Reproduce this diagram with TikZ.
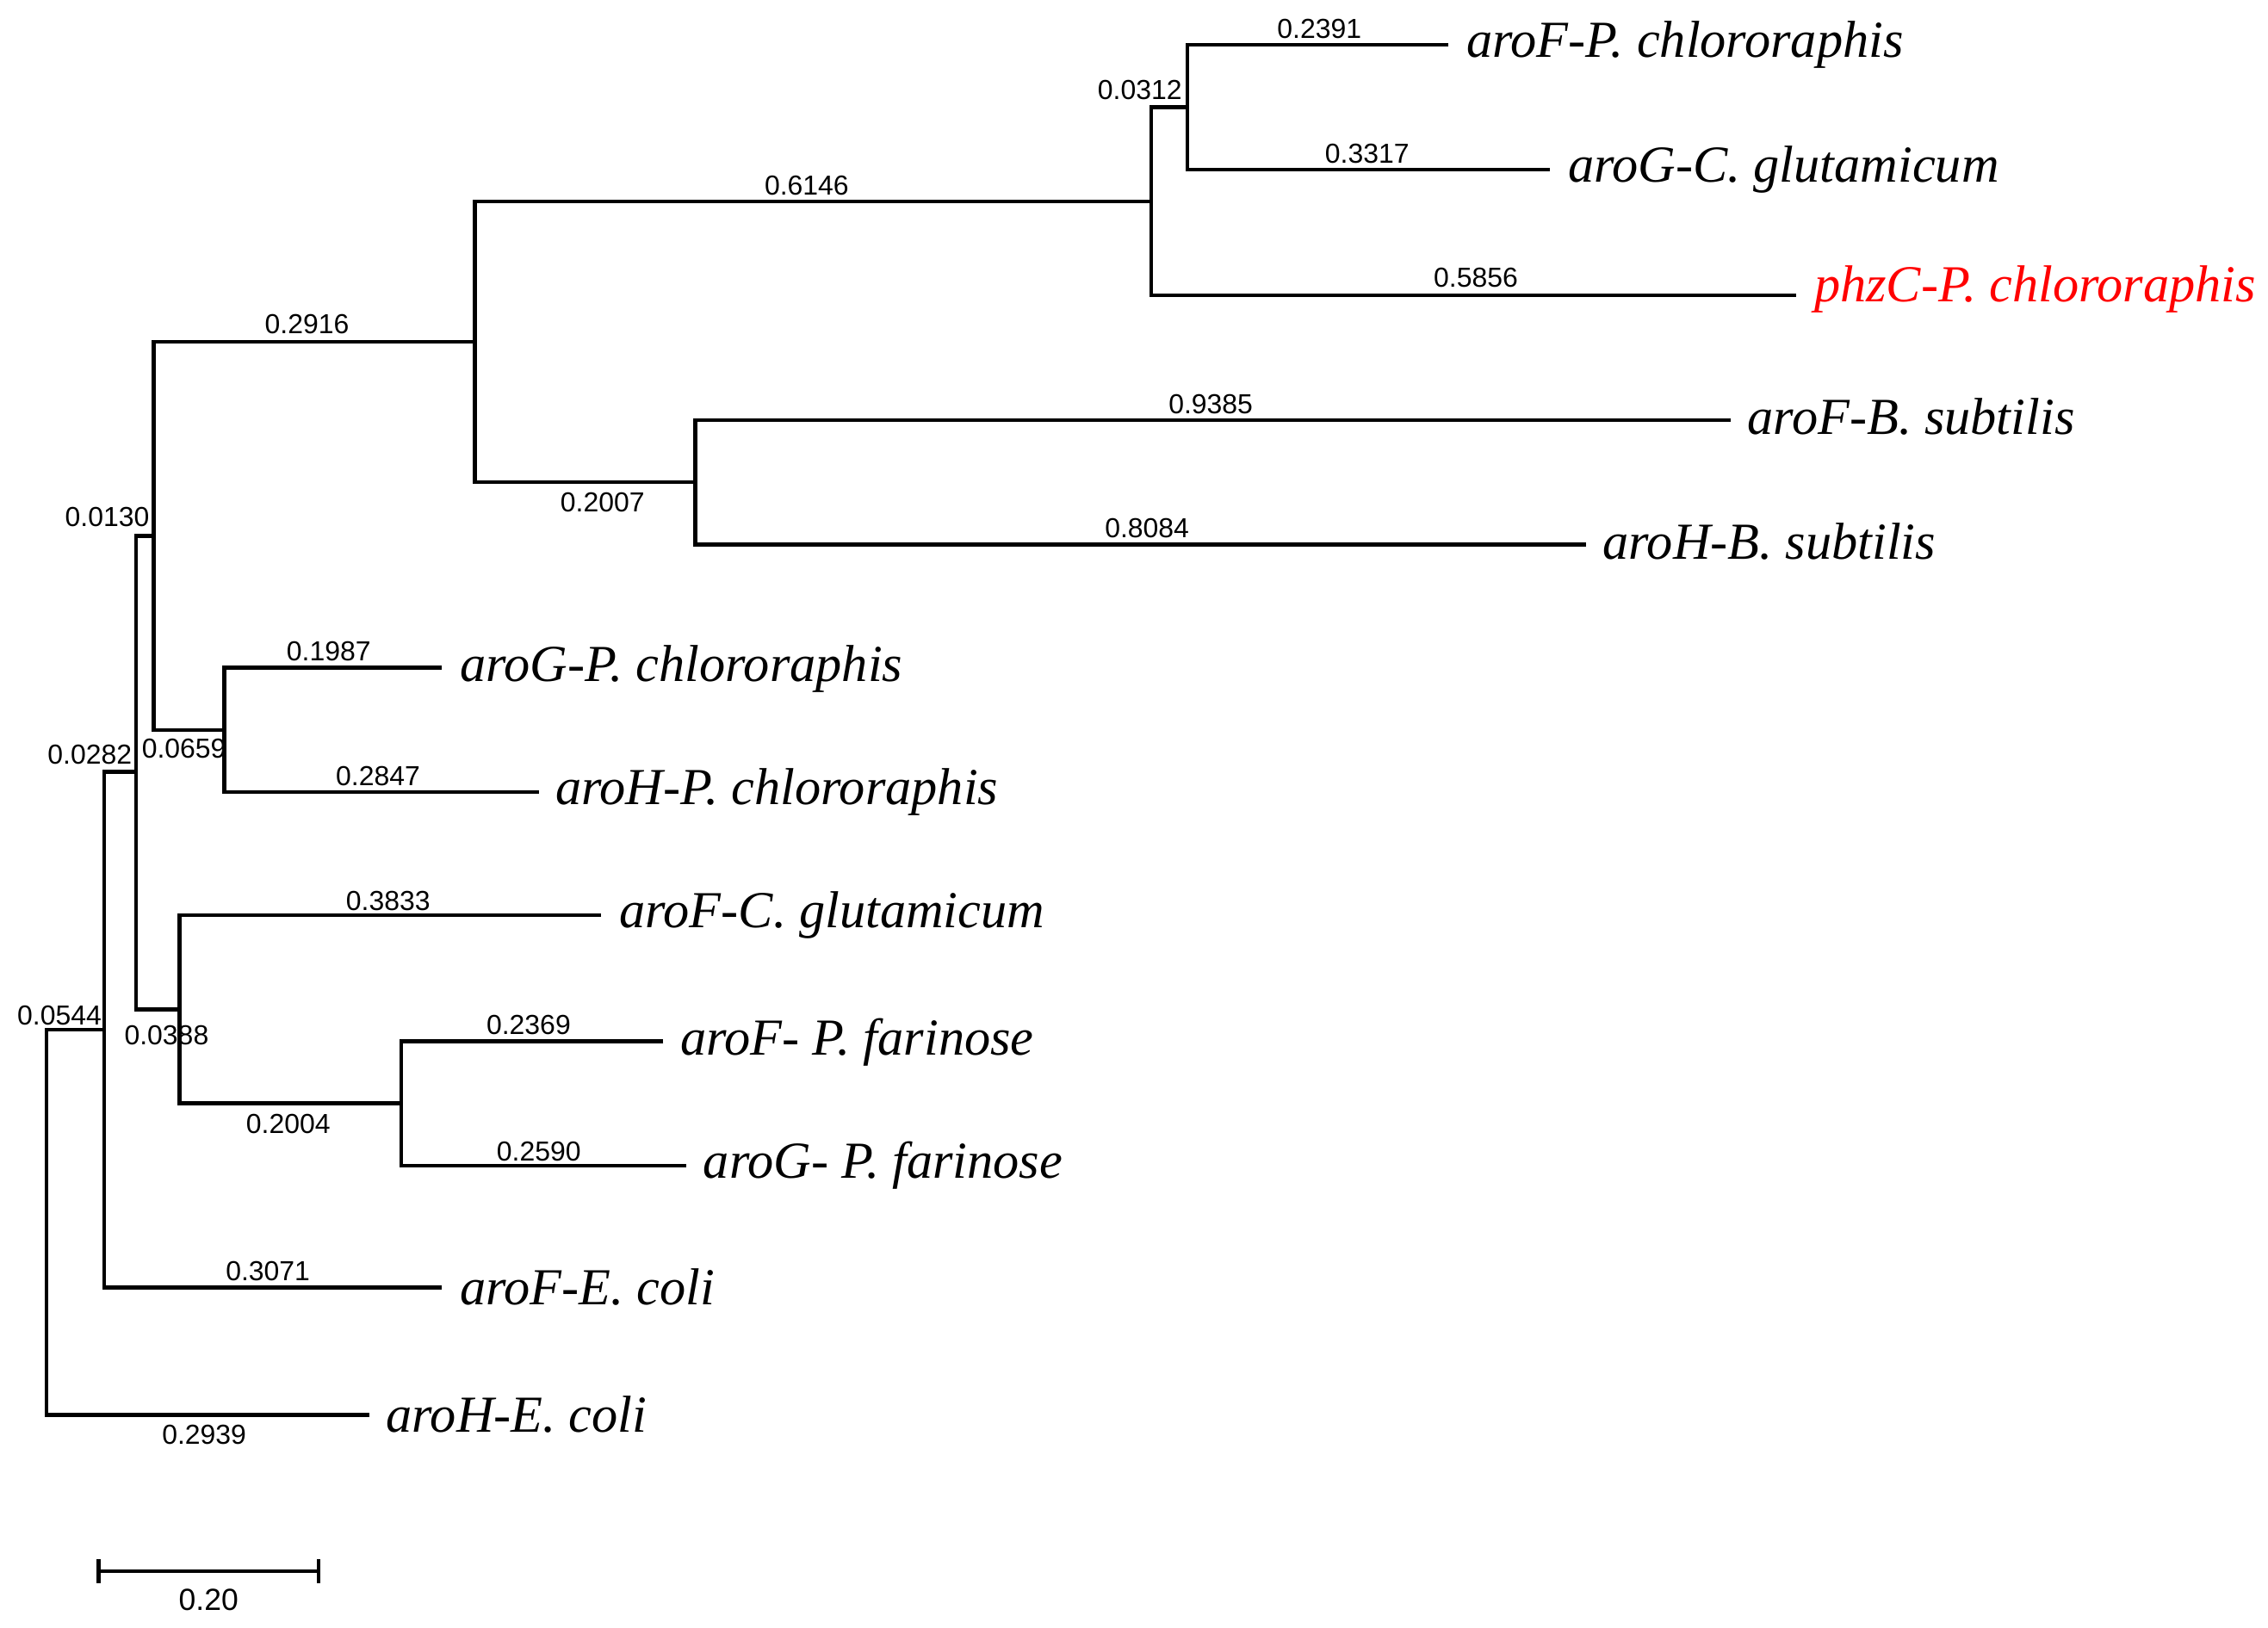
\documentclass[tikz,border=0pt]{standalone}
\usepackage{fontspec}
\setmainfont{Liberation Serif}
\setsansfont{Liberation Sans}
\begin{document}
\begin{tikzpicture}[x=0.01cm,y=-0.01cm,
  br/.style={line width=0.75pt},
  taxon/.style={anchor=west,inner sep=0pt,font=\fontsize{10.2}{12}\selectfont\itshape},
  bl/.style={inner sep=0pt,font=\sffamily\fontsize{5.4}{6}\selectfont}]
\useasboundingbox (0,0) rectangle (1566,1124);
% internal nodes
\coordinate (A) at (820,74);
\coordinate (B) at (795,139);
\coordinate (C) at (480,333);
\coordinate (D) at (328,236);
\coordinate (E) at (155,504);
\coordinate (F) at (106,370);
\coordinate (G) at (277,762);
\coordinate (H) at (124,697);
\coordinate (I) at (94,533);
\coordinate (J) at (72,711);
\coordinate (K) at (32,844);
% leaf tips
\coordinate (l1) at (1000,31);
\coordinate (l2) at (1070,117);
\coordinate (l3) at (1240,204);
\coordinate (l4) at (1195,290);
\coordinate (l5) at (1095,376);
\coordinate (l6) at (305,461);
\coordinate (l7) at (372,547);
\coordinate (l8) at (415,632);
\coordinate (l9) at (458,719);
\coordinate (l10) at (474,805);
\coordinate (l11) at (305,889);
\coordinate (l12) at (255,977);
% taxon labels
\node[taxon] (t1) at (1012,31) {aroF-P. chlororaphis};
\node[taxon] (t2) at (1082,117) {aroG-C. glutamicum};
\node[taxon,text=red] (t3) at (1252,200) {phzC-P. chlororaphis};
\node[taxon] (t4) at (1206,288) {aroF-B. subtilis};
\node[taxon] (t5) at (1106,374) {aroH-B. subtilis};
\node[taxon] (t6) at (317,462) {aroG-P. chlororaphis};
\node[taxon] (t7) at (383,547) {aroH-P. chlororaphis};
\node[taxon] (t8) at (427,632) {aroF-C. glutamicum};
\node[taxon] (t9) at (469,720) {aroF- P. farinose};
\node[taxon] (t10) at (485,805) {aroG- P. farinose};
\node[taxon] (t11) at (317,889) {aroF-E. coli};
\node[taxon] (t12) at (266,977) {aroH-E. coli};
% branches
\draw[br] (l1) -| (A) |- (l2);
\draw[br] (A) -| (B) |- (l3);
\draw[br] (B) -| (D);
\draw[br] (l4) -| (C) |- (l5);
\draw[br] (C) -| (D);
\draw[br] (D) -| (F);
\draw[br] (l6) -| (E) |- (l7);
\draw[br] (E) -| (F);
\draw[br] (F) -| (I);
\draw[br] (l9) -| (G) |- (l10);
\draw[br] (l8) -| (H) |- (G);
\draw[br] (H) -| (I);
\draw[br] (I) -| (J) |- (l11);
\draw[br] (J) -| (K) |- (l12);
% branch labels
\node[bl] (b1) at (911,20) {0.2391};
\node[bl] (b2) at (944,106) {0.3317};
\node[bl] (b3) at (787,62) {0.0312};
\node[bl] (b4) at (1019,192) {0.5856};
\node[bl] (b5) at (557,128) {0.6146};
\node[bl] (b6) at (836,279) {0.9385};
\node[bl] (b7) at (792,365) {0.8084};
\node[bl] (b8) at (416,347) {0.2007};
\node[bl] (b9) at (212,224) {0.2916};
\node[bl] (b10) at (227,450) {0.1987};
\node[bl] (b11) at (261,536) {0.2847};
\node[bl] (b12) at (127,517) {0.0659};
\node[bl] (b13) at (74,357) {0.0130};
\node[bl] (b14) at (268,622) {0.3833};
\node[bl] (b15) at (365,708) {0.2369};
\node[bl] (b16) at (372,795) {0.2590};
\node[bl] (b17) at (199,776) {0.2004};
\node[bl] (b18) at (115,715) {0.0388};
\node[bl] (b19) at (62,521) {0.0282};
\node[bl] (b20) at (185,878) {0.3071};
\node[bl] (b21) at (41,701) {0.0544};
\node[bl] (b22) at (141,991) {0.2939};
% scale bar
\coordinate (s1) at (68,1085);
\coordinate (s2) at (220,1085);
\draw[br] (s1) -- (s2);
\draw[br] ([yshift=2.3pt]s1) -- ([yshift=-2.3pt]s1);
\draw[br] ([yshift=2.3pt]s2) -- ([yshift=-2.3pt]s2);
\node[bl,font=\sffamily\fontsize{6}{7}\selectfont] (sl) at (144,1105) {0.20};
\end{tikzpicture}
\end{document}
